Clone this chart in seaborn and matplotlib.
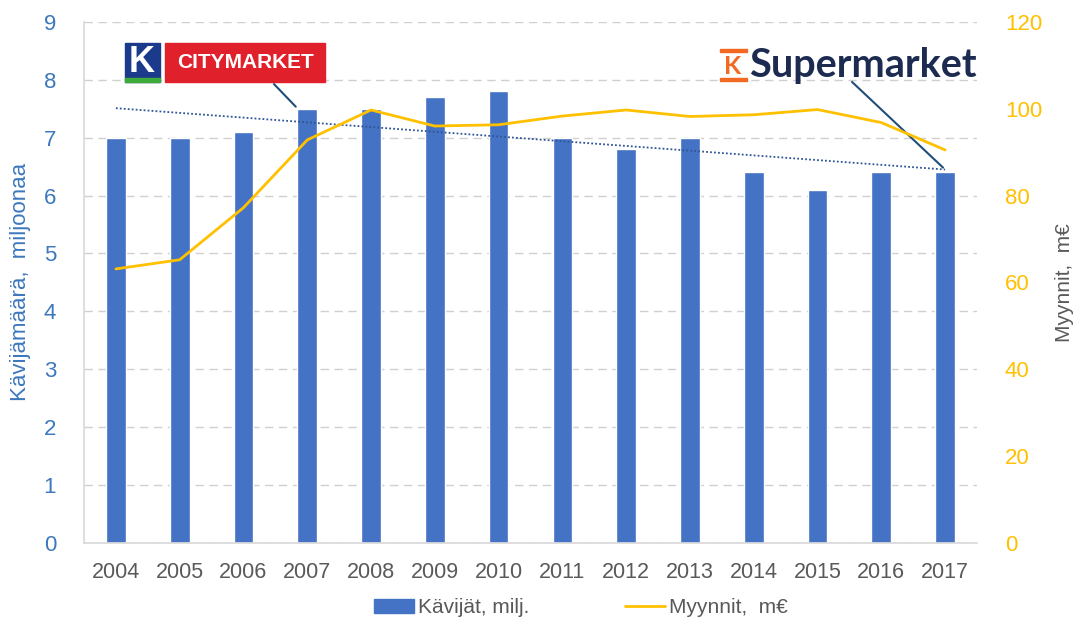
import matplotlib
matplotlib.use("Agg")
import matplotlib.pyplot as plt
import seaborn as sns
import pandas as pd
import numpy as np
from matplotlib.patches import Rectangle
from matplotlib.lines import Line2D
from matplotlib.patches import Patch

sns.set_theme(style="white")
plt.rcParams['font.family'] = ['Liberation Sans', 'DejaVu Sans']

# data
years = ["2004", "2005", "2006", "2007", "2008", "2009", "2010",
         "2011", "2012", "2013", "2014", "2015", "2016", "2017"]
visitors = [7.0, 7.0, 7.1, 7.5, 7.5, 7.7, 7.8, 7.0, 6.8, 7.0, 6.4, 6.1, 6.4, 6.4]
sales = [63.1, 65.2, 77.2, 92.8, 99.7, 96.0, 96.3, 98.3, 99.7, 98.2, 98.6, 99.8, 96.8, 90.5]
left_ticks = list(range(0, 10))
right_ticks = list(range(0, 121, 20))

bar_col = "#4472C4"
line_col = "#FFC000"
blue_txt = "#3C78BC"

df = pd.DataFrame({"year": years, "pos": np.arange(len(years)),
                   "visitors": visitors, "sales": sales})

fig = plt.figure(figsize=(10.76, 6.24), dpi=100)
ax = fig.add_axes([84 / 1076, 0.13, 893 / 1076, 0.835])

sns.barplot(data=df, x="year", y="visitors", color=bar_col, width=0.31,
            saturation=1, ax=ax, zorder=2)
ax.set_ylim(0, 9)
ax.set_yticks(left_ticks)
ax.grid(axis="y", color="#D0D0D0", linestyle=(0, (6, 4)), linewidth=1, zorder=0)
ax.set_xlabel("")
ax.set_ylabel("Kävijämäärä,  miljoonaa", color=blue_txt, fontsize=16, labelpad=9)
ax.tick_params(axis="y", colors=blue_txt, labelsize=16, length=0, pad=20)
ax.tick_params(axis="x", colors="#595959", labelsize=15.5, length=0, pad=14)
for s in ["top", "right"]:
    ax.spines[s].set_visible(False)
for s in ["left", "bottom"]:
    ax.spines[s].set_color("#D9D9D9")

# linear trendline of the visitor bars
k, b = np.polyfit(df["pos"], df["visitors"], 1)
ax.plot(df["pos"], k * df["pos"] + b, linestyle=(0, (1, 1.2)), color="#2F5597",
        linewidth=1.3, zorder=3)

ax2 = ax.twinx()
sns.lineplot(data=df, x="pos", y="sales", color=line_col, linewidth=2, ax=ax2, zorder=4)
ax2.set_ylim(0, 120)
ax2.set_yticks(right_ticks)
ax2.set_ylabel("Myynnit,  m€", color="#595959", fontsize=15, labelpad=9)
ax2.tick_params(axis="y", colors=line_col, labelsize=16, length=0, pad=20)
for s in ax2.spines.values():
    s.set_visible(False)
ax.set_xlim(-0.5, len(years) - 0.5)

# CITYMARKET logo
fig.patches.append(Rectangle((125 / 1076, 1 - 82 / 624), 35 / 1076, 39 / 624,
                             transform=fig.transFigure, color="#1B3A8C", zorder=5))
fig.patches.append(Rectangle((125 / 1076, 1 - 82 / 624), 35 / 1076, 4 / 624,
                             transform=fig.transFigure, color="#3DAA3A", zorder=6))
fig.patches.append(Rectangle((165 / 1076, 1 - 82 / 624), 160 / 1076, 39 / 624,
                             transform=fig.transFigure, color="#E0202A", zorder=5))
fig.text(142 / 1076, 1 - 62 / 624, "K", color="white", fontsize=26, fontweight="bold",
         ha="center", va="center", zorder=7)
fig.text(245 / 1076, 1 - 63 / 624, "CITYMARKET", color="white", fontsize=15,
         fontweight="bold", ha="center", va="center", zorder=7)
ax.annotate("", xy=(2.85, 7.5), xycoords="data", xytext=(272 / 1076, 1 - 82 / 624),
            textcoords="figure fraction",
            arrowprops=dict(arrowstyle="-", color="#1F4E79", linewidth=1.5))

# K-Supermarket logo
fig.patches.append(Rectangle((720 / 1076, 1 - 52 / 624), 27 / 1076, 3 / 624,
                             transform=fig.transFigure, color="#F26A21", zorder=5))
fig.patches.append(Rectangle((720 / 1076, 1 - 81 / 624), 27 / 1076, 3 / 624,
                             transform=fig.transFigure, color="#F26A21", zorder=5))
fig.text(733 / 1076, 1 - 66 / 624, "K", color="#F26A21", fontsize=18, fontweight="bold",
         ha="center", va="center", family="Lato", zorder=7)
fig.text(749 / 1076, 1 - 66 / 624, "Supermarket", color="#1C2B4F", fontsize=28.5,
         fontweight="bold", ha="left", va="center", family="Lato", zorder=7)
ax.annotate("", xy=(13, k * 13 + b), xycoords="data", xytext=(850 / 1076, 1 - 80 / 624),
            textcoords="figure fraction",
            arrowprops=dict(arrowstyle="-", color="#1F4E79", linewidth=1.5))

handles = [Patch(color=bar_col, label="Kävijät, milj."),
           Line2D([], [], color=line_col, linewidth=2, label="Myynnit,  m€")]
fig.legend(handles=handles, loc="center", bbox_to_anchor=(0.54, 0.026), ncol=2,
           frameon=False, fontsize=15, labelcolor="#595959", columnspacing=4.6,
           handlelength=1.9, handletextpad=0.2)

fig.savefig("out.png", dpi=100)
